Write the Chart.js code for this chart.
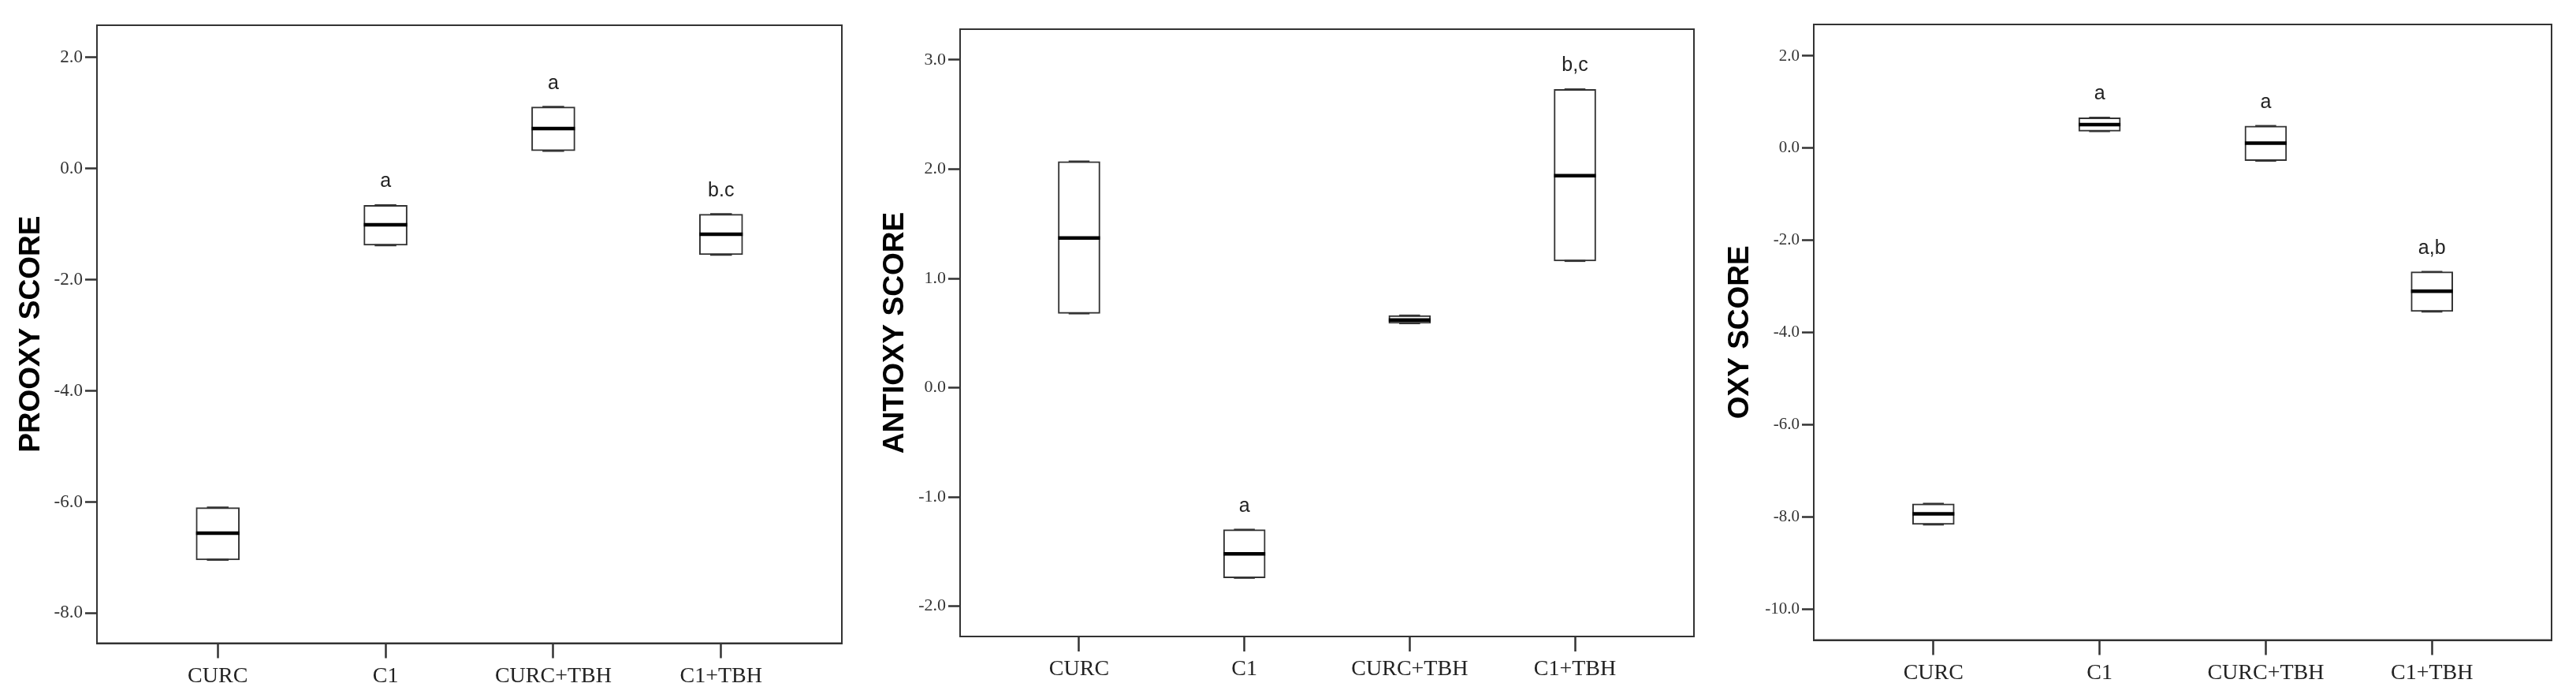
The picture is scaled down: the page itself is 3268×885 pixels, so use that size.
<!DOCTYPE html>
<html>
<head>
<meta charset="utf-8">
<script src="https://cdn.jsdelivr.net/npm/chart.js@4.4.0/dist/chart.umd.min.js"></script>
<style>
	body { margin: 0; background: #fff; }
	#wrap { position: relative; width: 3268px; height: 885px; overflow: hidden; }
	canvas { position: absolute; top: 0; }
</style>
</head>
<body>
<div id="wrap">
	<canvas id="c_prooxy" width="1100" height="885" style="left:0px"></canvas>
	<canvas id="c_antioxy" width="1080" height="885" style="left:1100px"></canvas>
	<canvas id="c_oxy" width="1088" height="885" style="left:2180px"></canvas>
</div>
<script>
const groups = ["CURC", "C1", "CURC+TBH", "C1+TBH"]

// box edges (q1 / q3), medians, whisker ends and significance letters, per score
const prooxyQ1 = [-7.04, -1.38, 0.32, -1.55]
const prooxyQ3 = [-6.10, -0.66, 1.11, -0.82]
const prooxyMedian = [-6.56, -1.01, 0.72, -1.18]
const prooxyMin = [-7.04, -1.38, 0.32, -1.55]
const prooxyMax = [-6.10, -0.66, 1.11, -0.82]
const prooxyLetters = ["", "a", "a", "b.c"]
const prooxyTicks = [-8, -6, -4, -2, 0, 2]

const antioxyQ1 = [0.68, -1.74, 0.59, 1.16]
const antioxyQ3 = [2.07, -1.30, 0.66, 2.73]
const antioxyMedian = [1.37, -1.52, 0.62, 1.94]
const antioxyMin = [0.68, -1.74, 0.59, 1.16]
const antioxyMax = [2.07, -1.30, 0.66, 2.73]
const antioxyLetters = ["", "a", "", "b,c"]
const antioxyTicks = [-2, -1, 0, 1, 2, 3]

const oxyQ1 = [-8.16, 0.37, -0.27, -3.54]
const oxyQ3 = [-7.71, 0.66, 0.48, -2.68]
const oxyMedian = [-7.93, 0.51, 0.11, -3.10]
const oxyMin = [-8.16, 0.37, -0.27, -3.54]
const oxyMax = [-7.71, 0.66, 0.48, -2.68]
const oxyLetters = ["", "a", "a", "a,b"]
const oxyTicks = [-10, -8, -6, -4, -2, 0, 2]

const axisColor = "#333333"

const framePlugin = {
	id: "frame",
	afterDraw(chart) {
		const a = chart.chartArea
		const ctx = chart.ctx
		ctx.save()
		ctx.strokeStyle = axisColor
		ctx.lineWidth = 2
		ctx.strokeRect(a.left, a.top, a.right - a.left, a.bottom - a.top)
		ctx.restore()
	}
}

const lettersPlugin = {
	id: "letters",
	afterDatasetsDraw(chart, args, opts) {
		const ctx = chart.ctx
		const xs = chart.scales.x
		const ys = chart.scales.y
		ctx.save()
		ctx.fillStyle = "#222"
		ctx.font = "25px 'Liberation Sans', Arial, sans-serif"
		ctx.textAlign = "center"
		ctx.textBaseline = "alphabetic"
		opts.labels.forEach(function(txt, i) {
			if (!txt) return
			ctx.fillText(txt, xs.getPixelForValue(i + 1), ys.getPixelForValue(opts.top[i]) - 23)
		})
		ctx.restore()
	}
}

function makeBoxChart(id, s) {
	const points = (arr) => arr.map((v, i) => ({x: i + 1, y: v}))
	const canvas = document.getElementById(id)
	return new Chart(canvas.getContext("2d"), {
		type: "bar",
		data: {
			datasets: [{
				type: "bar",
				data: s.q1.map((v, i) => ({x: i + 1, y: [v, s.q3[i]]})),
				backgroundColor: "#ffffff",
				borderColor: axisColor,
				borderWidth: 2,
				borderSkipped: false,
				barThickness: s.boxWidth,
				order: 3
			}, {
				type: "line",
				data: points(s.min).concat(points(s.max)),
				showLine: false,
				pointStyle: "line",
				radius: s.boxWidth / 4,
				borderWidth: 2.5,
				borderColor: axisColor,
				order: 2
			}, {
				type: "line",
				data: points(s.median),
				showLine: false,
				pointStyle: "line",
				radius: s.boxWidth / 2,
				borderWidth: 4.5,
				borderColor: "#000",
				order: 1
			}]
		},
		options: {
			responsive: false,
			animation: false,
			events: [],
			layout: {
				padding: {left: 0, top: s.frame.top, right: canvas.width - s.frame.right, bottom: 0}
			},
			plugins: {
				legend: {display: false},
				tooltip: {enabled: false},
				letters: {labels: s.letters, top: s.max}
			},
			scales: {
				x: {
					type: "linear",
					offset: false,
					min: 1 - 0.72,
					max: groups.length + 0.72,
					afterBuildTicks: (axis) => { axis.ticks = groups.map((g, i) => ({value: i + 1})) },
					afterFit: (scale) => { scale.height = canvas.height - s.frame.bottom },
					grid: {offset: false, drawOnChartArea: false, tickLength: 19, tickWidth: 2.5, tickColor: axisColor},
					border: {color: axisColor, width: 2},
					ticks: {
						callback: (v) => groups[v - 1],
						color: "#222",
						padding: 6,
						maxRotation: 0,
						font: {family: "'Liberation Serif', 'Times New Roman', serif", size: 28}
					}
				},
				y: {
					min: s.yMin,
					max: s.yMax,
					afterBuildTicks: (axis) => { axis.ticks = s.ticks.map((v) => ({value: v})) },
					afterFit: (scale) => { scale.width = s.frame.left },
					grid: {drawOnChartArea: false, tickLength: 15, tickWidth: 2.5, tickColor: axisColor},
					border: {color: axisColor, width: 2},
					ticks: {
						callback: (v) => v.toFixed(1),
						color: "#333",
						padding: 3,
						font: {family: "'Liberation Serif', 'Times New Roman', serif", size: s.tickSize}
					},
					title: {
						display: true,
						text: s.title,
						color: "#000",
						padding: {top: s.titleOffset, bottom: 0},
						font: {family: "'Liberation Sans', Arial, sans-serif", size: 37, weight: "bold"}
					}
				}
			}
		},
		plugins: [framePlugin, lettersPlugin]
	})
}

makeBoxChart("c_prooxy", {
	title: "PROOXY SCORE",
	q1: prooxyQ1, q3: prooxyQ3, median: prooxyMedian, min: prooxyMin, max: prooxyMax,
	letters: prooxyLetters, ticks: prooxyTicks,
	yMin: -8.54, yMax: 2.58,
	frame: {left: 123, right: 1080, top: 26.5, bottom: 815.5},
	boxWidth: 55, tickSize: 23, titleOffset: 18
})

makeBoxChart("c_antioxy", {
	title: "ANTIOXY SCORE",
	q1: antioxyQ1, q3: antioxyQ3, median: antioxyMedian, min: antioxyMin, max: antioxyMax,
	letters: antioxyLetters, ticks: antioxyTicks,
	yMin: -2.277, yMax: 3.281,
	frame: {left: 118, right: 1056, top: 37, bottom: 807},
	boxWidth: 53, tickSize: 22, titleOffset: 13.5
})

makeBoxChart("c_oxy", {
	title: "OXY SCORE",
	q1: oxyQ1, q3: oxyQ3, median: oxyMedian, min: oxyMin, max: oxyMax,
	letters: oxyLetters, ticks: oxyTicks,
	yMin: -10.665, yMax: 2.684,
	frame: {left: 121, right: 1062, top: 30, bottom: 811.5},
	boxWidth: 53, tickSize: 21, titleOffset: 6
})
</script>
</body>
</html>
